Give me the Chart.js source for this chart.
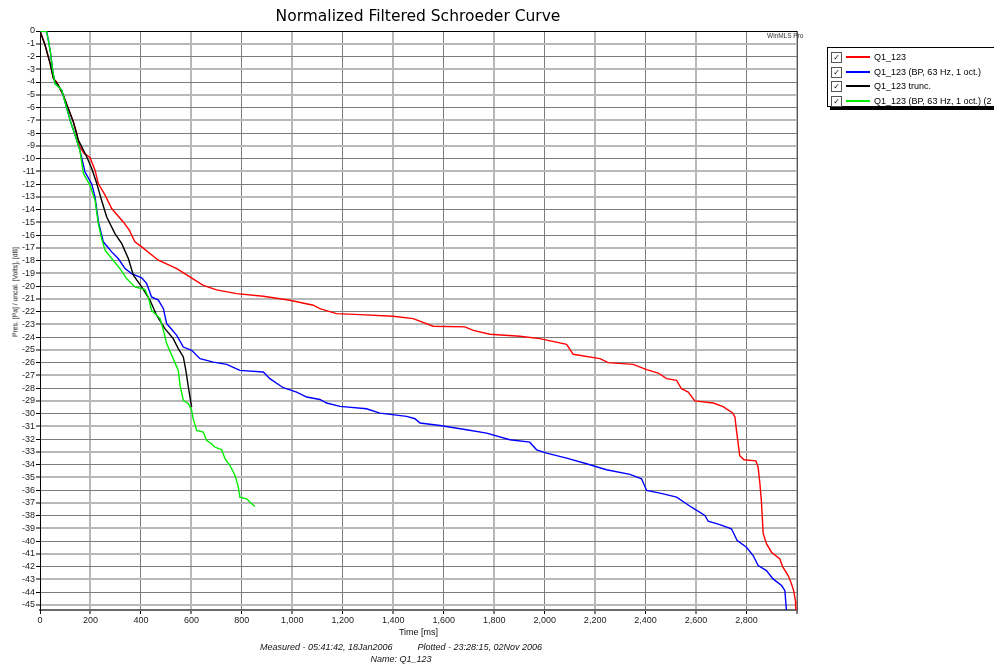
<!DOCTYPE html>
<html>
<head>
<meta charset="utf-8">
<script src="https://cdn.jsdelivr.net/npm/chart.js@4.4.1/dist/chart.umd.min.js"></script>
<style>
body { margin: 0; background: #fff; font-family: "Liberation Sans", Arial, sans-serif; }
#wrap { position: relative; width: 994px; height: 664px; overflow: hidden; }
#title { position: absolute; left: 0; width: 836px; top: 7px; text-align: center; font: 15.5px "DejaVu Sans", sans-serif; color: #000; }
#brand { position: absolute; left: 767px; top: 32px; font-size: 6.5px; color: #333; }
#ytitle { position: absolute; left: 15px; top: 292px; transform: translate(-50%, -50%) rotate(-90deg); font-size: 6.8px; color: #111; white-space: nowrap; }
#legend { position: absolute; left: 827px; top: 47px; width: 190px; height: 58px; border: 1px solid #000; background: #fff; box-shadow: 3px 3px 0 #000; font-size: 9px; }
.row { position: absolute; left: 3px; height: 12px; display: flex; align-items: center; white-space: nowrap; }
.box { width: 9px; height: 9px; border: 1px solid #555; font: bold 8px "DejaVu Sans"; line-height: 9px; text-align: center; }
.sw { width: 24px; height: 2px; margin: 0 4px; }
#foot { position: absolute; left: 0; width: 802px; top: 641px; text-align: center; font-size: 9px; font-style: italic; line-height: 12px; color: #111; }
canvas { position: absolute; left: 0; top: 0; }
</style>
</head>
<body>
<div id="wrap">
  <canvas id="myChart" width="994" height="664"></canvas>
  <div id="title">Normalized Filtered Schroeder Curve</div>
  <div id="brand">WinMLS Pro</div>
  <div id="ytitle">Pres. [Pa] / uncal. [Volts], [dB]</div>
  <div id="legend"></div>
  <div id="foot">Measured - 05:41:42, 18Jan2006&nbsp;&nbsp;&nbsp;&nbsp;&nbsp;&nbsp;&nbsp;&nbsp;&nbsp;&nbsp;Plotted - 23:28:15, 02Nov 2006<br>Name: Q1_123</div>
</div>
<script>
// series names and colours
const names = ['Q1_123', 'Q1_123 (BP, 63 Hz, 1 oct.)', 'Q1_123 trunc.', 'Q1_123 (BP, 63 Hz, 1 oct.) (2'],
    colors = ['#ff0000', '#0000ff', '#000000', '#00ee00'];

// Q1_123
const redTime = [0, 20, 40, 53, 66, 92, 112, 132, 145, 156, 175, 198, 218, 231, 258, 284, 330, 354, 376, 403, 469, 542, 594, 647, 700, 779, 885, 990, 1083, 1109, 1175, 1268, 1400, 1479, 1558, 1684, 1717, 1783, 1902, 1981, 2087, 2113, 2219, 2252, 2351, 2404, 2450, 2483, 2523, 2542, 2569, 2595, 2668, 2707, 2745, 2754, 2760, 2773, 2790, 2837, 2846, 2853, 2859, 2866, 2879, 2899, 2932, 2943, 2965, 2978, 2987, 2994, 2995],
    redLevel = [0, -1.1, -2.54, -3.72, -4.0, -5.02, -6.07, -7.12, -8.0, -9.03, -9.6, -9.92, -10.91, -11.96, -12.87, -13.92, -14.97, -15.62, -16.53, -16.93, -17.97, -18.63, -19.28, -19.94, -20.3, -20.59, -20.8, -21.11, -21.5, -21.77, -22.16, -22.24, -22.37, -22.55, -23.15, -23.2, -23.47, -23.78, -23.94, -24.12, -24.57, -25.35, -25.69, -26.0, -26.14, -26.55, -26.82, -27.26, -27.39, -28.05, -28.31, -29.0, -29.17, -29.45, -29.95, -30.27, -31.3, -33.3, -33.62, -33.7, -34.2, -35.5, -36.9, -39.4, -40.2, -40.87, -41.4, -42.0, -42.7, -43.35, -43.9, -44.7, -45.4];

// Q1_123 (BP, 63 Hz, 1 oct.)
const blueTime = [0, 26, 33, 42, 50, 59, 86, 99, 119, 139, 158, 172, 178, 205, 218, 232, 238, 251, 284, 310, 337, 363, 403, 423, 442, 469, 489, 502, 542, 568, 601, 634, 687, 740, 792, 885, 911, 964, 1017, 1057, 1109, 1136, 1189, 1294, 1347, 1453, 1486, 1506, 1585, 1690, 1770, 1862, 1941, 1968, 2008, 2087, 2166, 2245, 2338, 2384, 2404, 2457, 2523, 2582, 2635, 2648, 2694, 2740, 2763, 2800, 2826, 2846, 2879, 2905, 2939, 2952, 2958],
    blueLevel = [0, -0.05, -0.7, -1.75, -3.06, -4.1, -4.63, -5.55, -6.99, -8.16, -9.34, -10.5, -11.04, -12.0, -13.0, -15.0, -15.49, -16.53, -17.32, -17.84, -18.63, -19.02, -19.36, -19.81, -20.85, -21.1, -21.77, -22.94, -23.86, -24.78, -25.04, -25.69, -25.96, -26.14, -26.61, -26.74, -27.26, -27.97, -28.31, -28.7, -28.89, -29.17, -29.43, -29.62, -29.96, -30.22, -30.4, -30.74, -30.93, -31.27, -31.53, -32.05, -32.24, -32.84, -33.1, -33.49, -33.93, -34.4, -34.77, -35.11, -36.03, -36.24, -36.55, -37.34, -37.99, -38.44, -38.7, -39.03, -39.95, -40.48, -41.13, -41.92, -42.31, -42.96, -43.48, -43.88, -45.4];

// Q1_123 trunc.
const blackTime = [0, 20, 40, 53, 72, 92, 112, 132, 152, 185, 205, 225, 244, 264, 297, 324, 350, 370, 403, 436, 462, 495, 528, 548, 568, 578, 588, 601],
    blackLevel = [0, -1.1, -2.54, -3.72, -4.24, -5.02, -6.07, -7.12, -8.56, -9.86, -10.78, -11.96, -13.27, -14.57, -15.88, -16.67, -17.84, -19.15, -20.07, -21.11, -22.29, -23.34, -24.12, -24.9, -25.56, -26.61, -27.92, -29.49];

// Q1_123 (BP, 63 Hz, 1 oct.) (2
const greenTime = [0, 26, 33, 42, 50, 59, 86, 99, 119, 139, 158, 172, 198, 218, 231, 244, 258, 284, 317, 343, 376, 416, 429, 442, 476, 489, 502, 528, 548, 555, 568, 588, 601, 607, 621, 647, 660, 680, 693, 720, 733, 753, 773, 786, 792, 819, 839, 852],
    greenLevel = [0, -0.05, -0.7, -1.75, -3.06, -4.1, -4.63, -5.55, -6.99, -8.16, -9.34, -11.17, -12.09, -13.27, -15.1, -16.27, -17.19, -17.84, -18.63, -19.41, -20.07, -20.28, -20.85, -21.9, -22.55, -23.47, -24.51, -25.69, -26.61, -27.79, -28.96, -29.23, -29.75, -30.4, -31.32, -31.45, -32.1, -32.36, -32.63, -32.83, -33.54, -34.07, -34.85, -35.77, -36.55, -36.68, -37.07, -37.28];

const times = [redTime, blueTime, blackTime, greenTime],
    levels = [redLevel, blueLevel, blackLevel, greenLevel];

// legend
const legend = document.getElementById('legend'),
    rowTops = [3, 18, 32, 47];
names.forEach((name, i) => {
    const row = document.createElement('div');
    row.className = 'row';
    row.style.top = rowTops[i] + 'px';
    row.innerHTML = '<span class="box">✓</span><span class="sw" style="background:' + colors[i] + '"></span><span>' + name + '</span>';
    legend.appendChild(row);
});

// plot frame (top and right edges)
const frame = {
    id: 'frame',
    beforeDatasetsDraw(chart) {
        const {ctx, chartArea: a} = chart;
        ctx.save();
        ctx.lineWidth = 1;
        ctx.strokeStyle = '#000';
        ctx.beginPath();
        ctx.moveTo(a.left, a.top + 0.5);
        ctx.lineTo(a.right, a.top + 0.5);
        ctx.stroke();
        ctx.strokeStyle = '#555';
        ctx.beginPath();
        ctx.moveTo(a.right + 0.5, a.top);
        ctx.lineTo(a.right + 0.5, a.bottom);
        ctx.stroke();
        ctx.restore();
    }
};

// alternating light/dark grid lines
const isLight = (value, step) => Math.round(Math.abs(value) / step) % 2 === 1;

const ctx = document.getElementById('myChart'),
    myChart = new Chart(ctx, {
        type: 'line',
        data: {
            datasets: names.map((name, i) => ({
                label: name,
                data: times[i].map((t, j) => ({x: t, y: levels[i][j]})),
                borderColor: colors[i],
                borderWidth: 1.4,
                pointRadius: 0,
                tension: 0,
                fill: false,
                order: 4 - i
            }))
        },
        options: {
            responsive: false,
            animation: false,
            layout: {padding: {left: 0, top: 31, right: 197, bottom: 0}},
            plugins: {legend: {display: false}, tooltip: {enabled: false}},
            scales: {
                x: {
                    type: 'linear',
                    min: 0,
                    max: 3000,
                    afterFit: (s) => { s.height = 54; },
                    ticks: {
                        stepSize: 200, maxRotation: 0, autoSkip: false, padding: 1, color: '#222',
                        font: {family: 'Liberation Sans', size: 9},
                        callback: (v) => (v >= 3000 ? '' : v.toLocaleString('en-US'))
                    },
                    grid: {
                        color: (c) => (isLight(c.tick.value, 200) ? '#b8b8b8' : '#7c7c7c'),
                        lineWidth: (c) => (isLight(c.tick.value, 200) ? 2 : 1),
                        tickColor: '#000', tickLength: 4, tickWidth: 1
                    },
                    border: {color: '#6a6a6a', width: 2},
                    title: {display: true, text: 'Time [ms]', color: '#111', font: {family: 'Liberation Sans', size: 9}, padding: {top: 0, bottom: 26}}
                },
                y: {
                    min: -45.4,
                    max: 0,
                    afterFit: (s) => { s.width = 40; },
                    ticks: {stepSize: 1, includeBounds: false, autoSkip: false, padding: 1, color: '#222', font: {family: 'Liberation Sans', size: 9}},
                    grid: {
                        color: (c) => (isLight(c.tick.value, 1) ? '#b8b8b8' : '#7c7c7c'),
                        lineWidth: (c) => (isLight(c.tick.value, 1) ? 2 : 1),
                        tickColor: '#000', tickLength: 4, tickWidth: 1
                    },
                    border: {color: '#000', width: 1}
                }
            }
        },
        plugins: [frame]
    });
</script>
</body>
</html>
